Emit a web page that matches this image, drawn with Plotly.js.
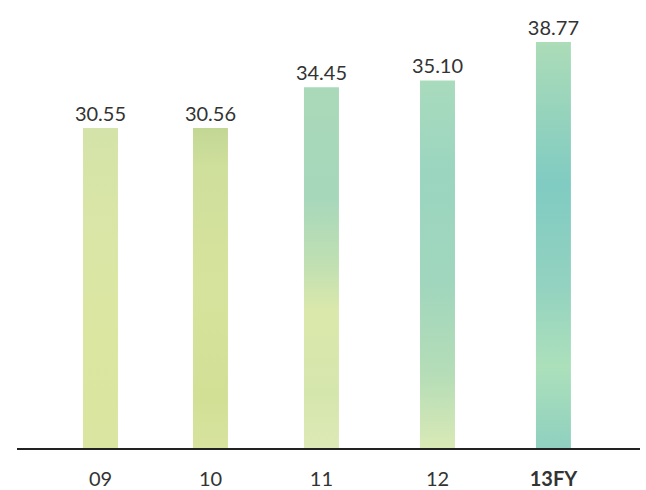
<!DOCTYPE html>
<html>
<head>
<meta charset="utf-8">
<script src="https://cdn.plot.ly/plotly-3.0.1.min.js"></script>
<style>
  html, body { margin: 0; padding: 0; background: #fff; }
  #chart { width: 646px; height: 490px; }
</style>
</head>
<body>
<div id="chart"></div>
<script>
// Fiscal years and values
const years = ['09', '10', '11', '12', '13FY'];
const values = [30.55, 30.56, 34.45, 35.10, 38.77];
const tickLabels = ['09', '10', '11', '12', '<b>13FY</b>'];

// Horizontal slot of each bar (slightly wider gaps toward the right)
const slots = [0, 1.0, 2.009, 3.064, 4.118];

// Vertical colour washes for each bar, top -> bottom
const washes = [
  [[0, '#d4e3a9'], [0.35, '#dae6a6'], [0.7, '#dbe6a0'], [1, '#d9e5a0']],
  [[0, '#c3d795'], [0.12, '#cfdf9c'], [0.5, '#d6e39c'], [0.85, '#d2e096'], [1, '#d7e39e']],
  [[0, '#a9d9b8'], [0.3, '#a6d7bb'], [0.5, '#c2e0b2'], [0.62, '#dbe8ab'], [0.85, '#d5e6ad'], [1, '#dde9b6']],
  [[0, '#a9dbbd'], [0.25, '#9bd5c0'], [0.55, '#a0d6bd'], [0.8, '#b5ddb7'], [1, '#d9e9b6']],
  [[0, '#acdcb8'], [0.2, '#93d2bd'], [0.35, '#80cbc2'], [0.6, '#93d2c0'], [0.8, '#ace0bb'], [1, '#8fd0bf']]
];

const labelFont = { family: 'Lato, "Open Sans", sans-serif', size: 20, color: '#333333' };

const trace = {
  type: 'bar',
  x: slots,
  y: values,
  width: 0.318,
  marker: { color: '#cfe3ad', line: { width: 0 } },
  text: values.map(v => v.toFixed(2)),
  textposition: 'outside',
  constraintext: 'none',
  textfont: labelFont,
  cliponaxis: false,
  hoverinfo: 'skip'
};

const layout = {
  width: 646,
  height: 490,
  margin: { l: 17, r: 6, t: 10, b: 42 },
  paper_bgcolor: '#ffffff',
  plot_bgcolor: '#ffffff',
  showlegend: false,
  xaxis: {
    range: [-0.759, 4.905],
    tickmode: 'array',
    tickvals: slots,
    ticktext: tickLabels,
    ticks: '',
    ticklabelstandoff: 12,
    showgrid: false,
    zeroline: false,
    showline: true,
    linecolor: '#222222',
    linewidth: 2,
    tickfont: labelFont,
    fixedrange: true
  },
  yaxis: {
    range: [0, 41.83],
    visible: false,
    showgrid: false,
    zeroline: false,
    fixedrange: true
  }
};

Plotly.newPlot('chart', [trace], layout, { staticPlot: true, displayModeBar: false }).then(gd => {
  const svg = gd.querySelector('svg.main-svg');
  const ns = 'http://www.w3.org/2000/svg';
  let defs = svg.querySelector('defs');
  if (!defs) { defs = document.createElementNS(ns, 'defs'); svg.insertBefore(defs, svg.firstChild); }
  washes.forEach((stops, i) => {
    const g = document.createElementNS(ns, 'linearGradient');
    g.setAttribute('id', 'wash' + i);
    g.setAttribute('x1', '0'); g.setAttribute('y1', '0');
    g.setAttribute('x2', '0'); g.setAttribute('y2', '1');
    stops.forEach(([o, c]) => {
      const s = document.createElementNS(ns, 'stop');
      s.setAttribute('offset', o);
      s.setAttribute('stop-color', c);
      g.appendChild(s);
    });
    defs.appendChild(g);
  });
  gd.querySelectorAll('.barlayer .point path').forEach((p, i) => {
    p.style.fill = 'url(#wash' + i + ')';
  });
});
</script>
</body>
</html>
